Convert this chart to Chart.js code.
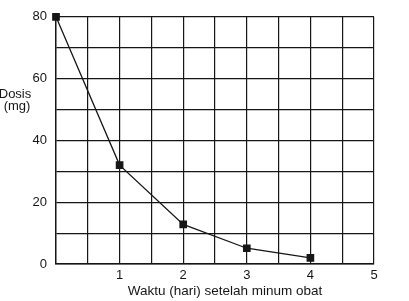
<!DOCTYPE html>
<html lang="id">
<head>
    <meta charset="UTF-8">
    <title>Dosis obat</title>
    <script src="https://cdn.jsdelivr.net/npm/chart.js"></script>
    <style>
        html, body {
            margin: 0;
            padding: 0;
            background: #fff;
        }
        #wrap {
            width: 409px;
            height: 301px;
            position: relative;
        }
    </style>
</head>
<body>
    <div id="wrap"><canvas id="dosisChart"></canvas></div>

    <script>
        // data
        const hari = [0, 1, 2, 3, 4];
        const dosis = [80, 32, 12.8, 5.1, 2.0];
        const xLabels = [1, 2, 3, 4, 5];
        const yLabels = [0, 20, 40, 60, 80];
        const xTitle = 'Waktu (hari) setelah minum obat';
        const yTitle = ['Dosis', '(mg)'];

        const ink = '#161616';
        const font = 'Liberation Sans, Arial, sans-serif';

        // judul sumbu ditulis mendatar, seperti di gambar
        const axisTitles = {
            id: 'axisTitles',
            afterDraw(chart) {
                const ctx = chart.ctx;
                const y = chart.scales.y;
                ctx.save();
                ctx.fillStyle = ink;
                ctx.font = '13px ' + font;
                ctx.textAlign = 'center';
                ctx.textBaseline = 'middle';
                ctx.fillText(yTitle[0], 15, y.getPixelForValue(55));
                ctx.fillText(yTitle[1], 17, y.getPixelForValue(51));
                ctx.font = '13.5px ' + font;
                ctx.fillText(xTitle, 225, 291);
                ctx.restore();
            }
        };

        new Chart(document.getElementById('dosisChart'), {
            type: 'scatter',
            data: {
                datasets: [{
                    label: 'Dosis',
                    data: hari.map((h, i) => ({ x: h, y: dosis[i] })),
                    showLine: true,
                    clip: false,
                    borderColor: ink,
                    borderWidth: 1.3,
                    backgroundColor: ink,
                    pointStyle: 'rect',
                    pointRadius: 4.5,
                    pointHoverRadius: 4.5,
                    tension: 0
                }]
            },
            options: {
                responsive: true,
                maintainAspectRatio: false,
                animation: false,
                layout: { padding: { top: 15, right: 35, left: 0, bottom: 0 } },
                plugins: {
                    legend: { display: false },
                    tooltip: { enabled: false }
                },
                scales: {
                    x: {
                        type: 'linear',
                        min: 0,
                        max: 5,
                        afterFit(scale) { scale.height = 37; },
                        grid: { color: ink, lineWidth: 1.2, drawTicks: false },
                        border: { color: ink, width: 1.4 },
                        ticks: {
                            stepSize: 0.5,
                            padding: 4,
                            color: ink,
                            font: { family: font, size: 13 },
                            callback: v => xLabels.includes(v) ? v : ''
                        }
                    },
                    y: {
                        min: 0,
                        max: 80,
                        afterFit(scale) { scale.width = 56; },
                        grid: { color: ink, lineWidth: 1.2, drawTicks: false },
                        border: { color: ink, width: 1.4 },
                        ticks: {
                            stepSize: 10,
                            padding: 9,
                            color: ink,
                            font: { family: font, size: 13 },
                            callback: v => yLabels.includes(v) ? v : ''
                        }
                    }
                }
            },
            plugins: [axisTitles]
        });
    </script>
</body>
</html>
